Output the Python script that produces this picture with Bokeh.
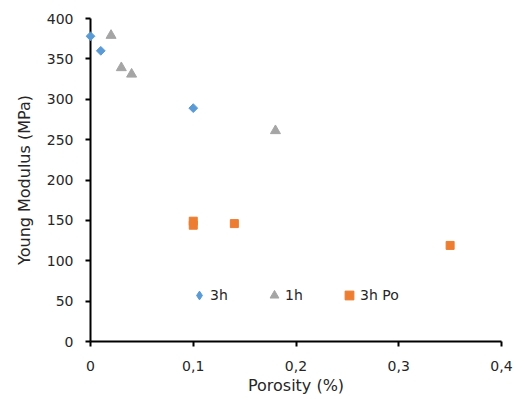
import math
from bokeh.plotting import figure
from bokeh.models import FixedTicker, CustomJSTickFormatter, Legend, LegendItem
from bokeh.embed import file_html
from bokeh.resources import INLINE

# Data
x_3h = [0.0, 0.01, 0.10]
y_3h = [378, 360, 289]
x_1h = [0.02, 0.03, 0.04, 0.18]
y_1h = [379, 339, 331, 261]
x_po = [0.10, 0.10, 0.14, 0.35]
y_po = [149, 144, 146, 119]

x_ticks = [0, 0.1, 0.2, 0.3, 0.4]
y_ticks = [0, 50, 100, 150, 200, 250, 300, 350, 400]

FONT = "DejaVu Sans"
TXT = "#262626"
BLUE, GRAY, ORANGE = "#5B9BD5", "#A5A5A5", "#ED7D31"

p = figure(width=517, height=399, x_range=(0, 0.4), y_range=(0, 400),
           output_backend="svg", toolbar_location=None,
           min_border_left=90, min_border_right=16, min_border_top=18, min_border_bottom=58)

p.outline_line_color = None
p.xgrid.visible = False
p.ygrid.visible = False

r1 = p.scatter(x_3h, y_3h, marker="square", angle=math.pi / 4, size=6.2,
               fill_color=BLUE, line_color=BLUE, level="overlay")
r2 = p.scatter(x_1h, y_1h, marker="triangle", size=10,
               fill_color=GRAY, line_color=GRAY, level="overlay")
r3 = p.scatter(x_po, y_po, marker="square", size=8,
               fill_color=ORANGE, line_color=ORANGE, level="overlay")
# legend-only glyph for the diamond key (hidden on the plot)
r1_key = p.scatter(x_3h, y_3h, marker="diamond", size=8,
                   fill_color=BLUE, line_color=BLUE, visible=False)

for ax in (p.xaxis[0], p.yaxis[0]):
    ax.axis_line_color = "black"
    ax.axis_line_width = 2
    ax.major_tick_line_color = "black"
    ax.major_tick_line_width = 2
    ax.major_tick_out = 5
    ax.major_tick_in = 0
    ax.minor_tick_line_color = None
    ax.major_label_text_font = FONT
    ax.major_label_text_font_size = "14px"
    ax.major_label_text_color = TXT
    ax.axis_label_text_font = FONT
    ax.axis_label_text_font_size = "16px"
    ax.axis_label_text_font_style = "normal"
    ax.axis_label_text_color = TXT

p.xaxis.ticker = FixedTicker(ticks=x_ticks)
p.yaxis.ticker = FixedTicker(ticks=y_ticks)
p.xaxis.formatter = CustomJSTickFormatter(
    code="return (Math.round(tick*10)/10).toString().replace('.', ',');")
p.xaxis.major_label_standoff = 14
p.yaxis.major_label_standoff = 12
p.xaxis.axis_label = "Porosity (%)"
p.yaxis.axis_label = "Young Modulus (MPa)"
p.xaxis.axis_label_standoff = 2
p.yaxis.axis_label_standoff = 10

legend = Legend(items=[LegendItem(label="3h", renderers=[r1_key]),
                       LegendItem(label="1h", renderers=[r2]),
                       LegendItem(label="3h Po", renderers=[r3])],
                orientation="horizontal", location=(93, 30))
legend.border_line_alpha = 0
legend.background_fill_alpha = 0
legend.label_text_font = FONT
legend.label_text_font_size = "14px"
legend.label_text_color = TXT
legend.glyph_width = 22
legend.glyph_height = 22
legend.label_standoff = 0
legend.spacing = 33
legend.padding = 5
p.add_layout(legend)

open("out.html", "w").write(file_html(p, INLINE))
